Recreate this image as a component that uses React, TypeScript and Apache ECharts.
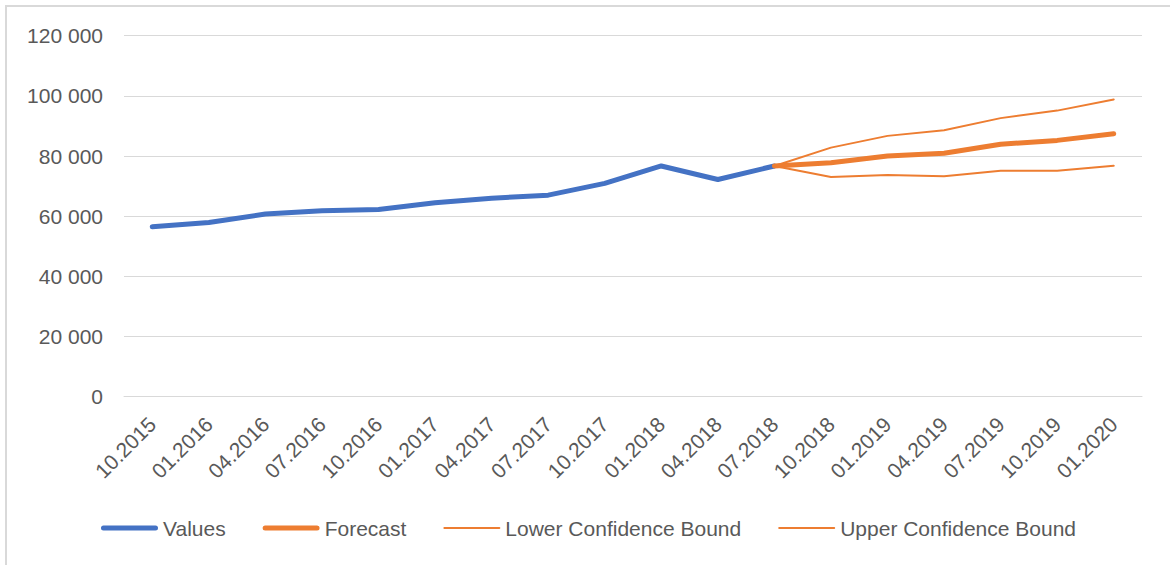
import React, { useEffect, useRef } from "react";
import * as echarts from "echarts";

const categories = [
  "10.2015", "01.2016", "04.2016", "07.2016", "10.2016", "01.2017",
  "04.2017", "07.2017", "10.2017", "01.2018", "04.2018", "07.2018",
  "10.2018", "01.2019", "04.2019", "07.2019", "10.2019", "01.2020",
];

const valuesData = [
  56500, 57900, 60700, 61800, 62200, 64500,
  66000, 67000, 70900, 76700, 72200, 76700,
  null, null, null, null, null, null,
];

const forecastData = [
  null, null, null, null, null, null,
  null, null, null, null, null, 76700,
  77800, 80000, 80900, 83900, 85200, 87400,
];

const lowerData = [
  null, null, null, null, null, null,
  null, null, null, null, null, 76700,
  73000, 73700, 73300, 75100, 75100, 76800,
];

const upperData = [
  null, null, null, null, null, null,
  null, null, null, null, null, 76700,
  82800, 86700, 88600, 92600, 95100, 98800,
];

const yTicks = { min: 0, max: 120000, interval: 20000 };

const FONT = "'Liberation Sans', Arial, sans-serif";
const TEXT = "#595959";
const GRID = "#d9d9d9";
const BLUE = "#4472c4";
const ORANGE = "#ed7d31";

const THICK_ICON = "path://M2.5 0H54.5A2.5 2.5 0 0 1 54.5 5H2.5A2.5 2.5 0 0 1 2.5 0Z";
const THIN_ICON = "path://M1 0H56A1 1 0 0 1 56 2H1A1 1 0 0 1 1 0Z";

function fmt(v: number): string {
  return String(v).replace(/\B(?=(\d{3})+(?!\d))/g, " ");
}

export default function App() {
  const ref = useRef<HTMLDivElement>(null);
  useEffect(() => {
    if (!ref.current) return;
    const chart = echarts.init(ref.current, null, { renderer: "svg" });
    chart.setOption({
      animation: false,
      backgroundColor: "#ffffff",
      textStyle: { fontFamily: FONT },
      graphic: [
        {
          type: "rect",
          shape: { x: 6, y: 6, width: 1180, height: 580 },
          style: { fill: "none", stroke: GRID, lineWidth: 2 },
          silent: true,
        },
      ],
      grid: { left: 124, right: 28, top: 35.7, bottom: 168.3 },
      legend: {
        left: 96,
        top: 511,
        itemWidth: 57,
        itemHeight: 14,
        itemGap: 37,
        symbolKeepAspect: true,
        textStyle: { color: TEXT, fontSize: 21, fontFamily: FONT, lineHeight: 24 },
        data: [
          { name: "Values", icon: THICK_ICON, itemStyle: { color: BLUE } },
          { name: "Forecast", icon: THICK_ICON, itemStyle: { color: ORANGE } },
          { name: "Lower Confidence Bound", icon: THIN_ICON, itemStyle: { color: ORANGE } },
          { name: "Upper Confidence Bound", icon: THIN_ICON, itemStyle: { color: ORANGE } },
        ],
      },
      xAxis: {
        type: "category",
        data: categories,
        boundaryGap: true,
        axisLine: { show: true, lineStyle: { color: GRID, width: 1 } },
        axisTick: { show: false },
        axisLabel: {
          rotate: 45,
          margin: 24,
          color: TEXT,
          fontSize: 21,
          fontFamily: FONT,
          interval: 0,
        },
        splitLine: { show: false },
      },
      yAxis: {
        type: "value",
        min: yTicks.min,
        max: yTicks.max,
        interval: yTicks.interval,
        axisLine: { show: false },
        axisTick: { show: false },
        axisLabel: {
          margin: 21,
          color: TEXT,
          fontSize: 21,
          fontFamily: FONT,
          formatter: (v: number) => fmt(v),
        },
        splitLine: { lineStyle: { color: GRID, width: 1 } },
      },
      series: [
        {
          name: "Values",
          type: "line",
          data: valuesData,
          symbol: "none",
          color: BLUE,
          lineStyle: { color: BLUE, width: 5, cap: "round", join: "round" },
        },
        {
          name: "Forecast",
          type: "line",
          data: forecastData,
          symbol: "none",
          color: ORANGE,
          lineStyle: { color: ORANGE, width: 5, cap: "round", join: "round" },
        },
        {
          name: "Lower Confidence Bound",
          type: "line",
          data: lowerData,
          symbol: "none",
          color: ORANGE,
          lineStyle: { color: ORANGE, width: 2, cap: "round", join: "round" },
        },
        {
          name: "Upper Confidence Bound",
          type: "line",
          data: upperData,
          symbol: "none",
          color: ORANGE,
          lineStyle: { color: ORANGE, width: 2, cap: "round", join: "round" },
        },
      ],
    });
    return () => chart.dispose();
  }, []);
  return (
    <div
      ref={ref}
      style={{ position: "fixed", left: 0, top: 0, width: 1170, height: 565 }}
    />
  );
}
